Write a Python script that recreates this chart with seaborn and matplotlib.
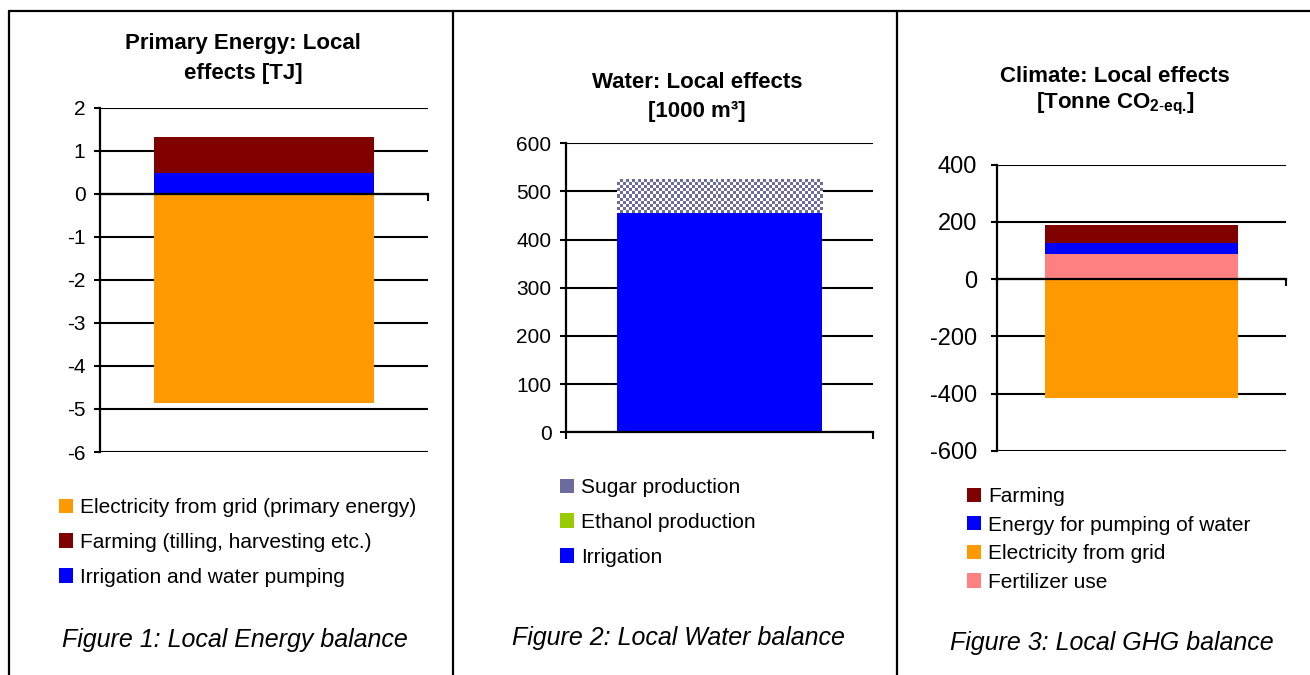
import numpy as np
import matplotlib
matplotlib.use("Agg")
import matplotlib.pyplot as plt
from matplotlib.patches import Patch
from matplotlib.lines import Line2D
from matplotlib import font_manager
import seaborn as sns

# ---- Figure 1: primary energy, local effects [TJ] ----
energy_labels = ["Electricity from grid (primary energy)",
                 "Farming (tilling, harvesting etc.)",
                 "Irrigation and water pumping"]
energy_values = [-4.87, 0.85, 0.48]
energy_colors = ["#FF9900", "#800000", "#0000FF"]
energy_ticks = [-6, -5, -4, -3, -2, -1, 0, 1, 2]

# ---- Figure 2: water, local effects [1000 m3] ----
water_labels = ["Sugar production", "Ethanol production", "Irrigation"]
water_values = [70, 0, 456]
water_colors = ["#666699", "#99CC00", "#0000FF"]
water_ticks = [0, 100, 200, 300, 400, 500, 600]

# ---- Figure 3: climate, local effects [tonne CO2-eq.] ----
ghg_labels = ["Farming", "Energy for pumping of water",
              "Electricity from grid", "Fertilizer use"]
ghg_values = [63, 38, -415, 87]
ghg_colors = ["#800000", "#0000FF", "#FF9900", "#FF8080"]
ghg_ticks = [-600, -400, -200, 0, 200, 400]

W, H = 1310, 675

sns.set_theme(style="white")
plt.rcParams["font.family"] = ["Liberation Sans", "DejaVu Sans"]
plt.rcParams["text.color"] = "black"
plt.rcParams["mathtext.fontset"] = "custom"
plt.rcParams["mathtext.rm"] = "Liberation Sans"
plt.rcParams["mathtext.bf"] = "Liberation Sans:bold"


def pick_font(candidates):
    for name in candidates:
        try:
            font_manager.findfont(name, fallback_to_default=False)
            return name
        except Exception:
            continue
    return "Liberation Sans"


caption_font = pick_font(["Liberation Sans Narrow", "Liberation Sans"])

fig = plt.figure(figsize=(W / 100, H / 100), dpi=100)


def fig_rect(left, top, right, bottom):
    return [left / W, 1 - bottom / H, (right - left) / W, (bottom - top) / H]


def stacked_bar(ax, labels, values, colors):
    """Stack positive values upward and negative values downward
    (bottom segment = last entry), drawing cumulative bars so that
    shorter ones overlay taller ones."""
    pos, neg = 0.0, 0.0
    segs = []
    for lab, v, c in reversed(list(zip(labels, values, colors))):
        if v == 0:
            continue
        if v > 0:
            base, pos = pos, pos + v
            top = pos
        else:
            base, neg = neg, neg + v
            top = neg
        segs.append((lab, base, top, c))
    bars = {}
    for lab, base, top, c in sorted(segs, key=lambda s: -abs(s[2])):
        sns.barplot(x=["total"], y=[top], color=c, width=0.67, saturation=1,
                    linewidth=0, edgecolor="none", errorbar=None, ax=ax)
        bars[lab] = (ax.patches[-1], base, top)
    return bars


def style_axes(ax, ticks, zero_spine, tick_size, pad):
    ax.set_ylim(ticks[0], ticks[-1])
    ax.set_xlim(-0.5, 0.5)
    ax.set_yticks(ticks)
    ax.set_yticklabels([str(t) for t in ticks])
    ax.set_xticks([-0.5, 0.5])
    ax.set_xticklabels([])
    ax.set_xlabel("")
    ax.set_ylabel("")
    ax.set_axisbelow(True)
    ax.yaxis.grid(True, color="black", linewidth=1.5)
    ax.xaxis.grid(False)
    for side in ("top", "right"):
        ax.spines[side].set_visible(False)
    for side in ("left", "bottom"):
        ax.spines[side].set_color("black")
        ax.spines[side].set_linewidth(1.6)
    if zero_spine:
        ax.spines["bottom"].set_position(("data", 0))
    ax.tick_params(axis="y", direction="out", length=4.5, width=1.5,
                   color="black", labelsize=tick_size, labelcolor="black",
                   pad=pad, left=True)
    ax.tick_params(axis="x", direction="out", length=5, width=1.5,
                   color="black", bottom=True)
    ax.set_facecolor("white")


def add_legend(ax, labels, colors, x, y, spacing, size=15):
    handles = [Patch(facecolor=c, edgecolor="none", label=l)
               for l, c in zip(labels, colors)]
    ax.legend(handles=handles, loc="upper left",
              bbox_to_anchor=(x / W, 1 - y / H), bbox_transform=fig.transFigure,
              frameon=False, fontsize=size, handlelength=0.68,
              handleheight=0.68, handletextpad=0.35, labelspacing=spacing,
              borderpad=0, borderaxespad=0, labelcolor="black")


# ---------------- Panel 1 ----------------
ax1 = fig.add_axes(fig_rect(100, 107.7, 428, 452))
stacked_bar(ax1, energy_labels, energy_values, energy_colors)
style_axes(ax1, energy_ticks, True, 15, 6)
add_legend(ax1, energy_labels, energy_colors, 59, 498, 0.76)

# ---------------- Panel 2 ----------------
ax2 = fig.add_axes(fig_rect(566, 143.3, 873, 432.3))
bars2 = stacked_bar(ax2, water_labels, water_values, water_colors)
style_axes(ax2, water_ticks, False, 15, 6)
# checkered fill for the sugar production segment
sugar_patch, s_base, s_top = bars2["Sugar production"]
x0 = sugar_patch.get_x()
x1 = x0 + sugar_patch.get_width()
p0 = ax2.transData.transform((x0, s_base))
p1 = ax2.transData.transform((x1, s_top))
nx = max(2, int(round(abs(p1[0] - p0[0]) / 3.0)))
ny = max(2, int(round(abs(p1[1] - p0[1]) / 3.0)))
ii, jj = np.indices((ny, nx))
checker = ((ii + jj) % 2).astype(float)
cmap = matplotlib.colors.ListedColormap(["#FFFFFF", "#6B6B9E"])
img = ax2.imshow(checker, extent=(x0, x1, s_base, s_top), origin="lower",
                 cmap=cmap, interpolation="nearest", aspect="auto", zorder=1.5)
img.set_clip_path(sugar_patch)
ax2.set_xlim(-0.5, 0.5)
ax2.set_ylim(water_ticks[0], water_ticks[-1])
add_legend(ax2, water_labels, ["#6B6B9E", "#99CC00", "#0000FF"], 560, 478, 0.76)

# ---------------- Panel 3 ----------------
ax3 = fig.add_axes(fig_rect(997, 164.7, 1286, 450.7))
stacked_bar(ax3, ghg_labels, ghg_values, ghg_colors)
style_axes(ax3, ghg_ticks, True, 17, 10)
add_legend(ax3, ghg_labels, ghg_colors, 967, 487, 0.46)

# ---------------- Titles ----------------
title_kw = dict(ha="center", va="center", fontsize=16, fontweight="bold",
                color="black")
fig.text(243 / W, 1 - 44 / H, "Primary Energy: Local", **title_kw)
fig.text(243 / W, 1 - 73 / H, "effects [TJ]", **title_kw)
fig.text(697 / W, 1 - 82 / H, "Water: Local effects", **title_kw)
fig.text(697 / W, 1 - 111 / H, "[1000 m\u00b3]", **title_kw)
fig.text(1115 / W, 1 - 77 / H, "Climate: Local effects", **title_kw)
fig.text(1115 / W, 1 - 104 / H,
         r"[Tonne CO$_{\mathbf{2\text{-}eq.}}\!\mathbf{]}$", **title_kw)

# ---------------- Captions ----------------
cap_kw = dict(ha="center", va="center", fontsize=18, style="italic",
              family=caption_font, color="black")
fig.text(235 / W, 1 - 640 / H, "Figure 1: Local Energy balance", **cap_kw)
fig.text(678 / W, 1 - 638 / H, "Figure 2: Local Water balance", **cap_kw)
fig.text(1112 / W, 1 - 643 / H, "Figure 3: Local GHG balance", **cap_kw)

# ---------------- Frame lines between the panels ----------------
frame_kw = dict(color="black", linewidth=1.6, transform=fig.transFigure)
fig.add_artist(Line2D([9 / W, 1], [1 - 11 / H, 1 - 11 / H], **frame_kw))
for xv in (9, 453, 897):
    fig.add_artist(Line2D([xv / W, xv / W], [0, 1 - 11 / H], **frame_kw))

fig.savefig("out.png", dpi=100, facecolor="white")
